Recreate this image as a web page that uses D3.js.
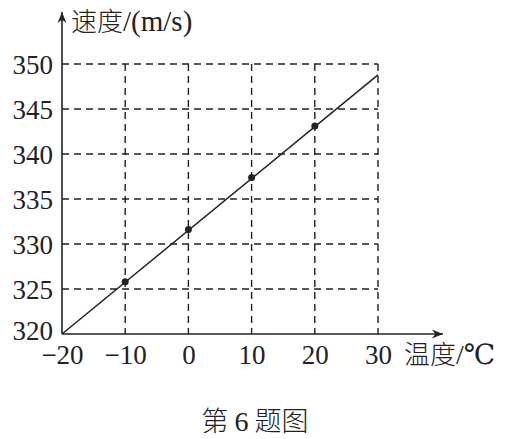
<!DOCTYPE html>
<html><head><meta charset="utf-8">
<script src="https://cdn.jsdelivr.net/npm/d3@7"></script>
<style>body{margin:0;background:#fff}svg{display:block}</style>
</head><body>
<svg id="c" width="505" height="439"></svg>
<script>
const xTicks = [-20, -10, 0, 10, 20, 30];
const yTicks = [320, 325, 330, 335, 340, 345, 350];
const temps = [-10, 0, 10, 20];
const speeds = [325.8, 331.6, 337.4, 343.1];
const lineT = [-20, 30];
const lineV = [320, 348.8];
const xLabel = ["温度", "/℃"];
const yLabel = ["速度", "/(m/s)"];
const caption = ["第 ", "6", " 题图"];

const svg = d3.select("#c");
const x = d3.scaleLinear().domain([-20, 30]).range([62, 378]);
const y = d3.scaleLinear().domain([320, 350]).range([334, 64]);
const ink = "#222";
const numFont = "'Liberation Serif','Times New Roman','DejaVu Serif',serif";
const cjkFont = "'Noto Sans CJK SC',serif";

// grid
const g = svg.append("g").attr("stroke", ink).attr("stroke-width", 1.4).attr("stroke-dasharray", "7,5").attr("fill","none");
yTicks.filter(v => v > 320).forEach(v => {
  g.append("line").attr("x1", x(-20)).attr("x2", x(30)).attr("y1", y(v)).attr("y2", y(v));
});
xTicks.filter(v => v > -20).forEach(v => {
  g.append("line").attr("x1", x(v)).attr("x2", x(v)).attr("y1", y(350)).attr("y2", y(320));
});

// axes lines with arrows
const defs = svg.append("defs");
defs.append("marker").attr("id","arr").attr("viewBox","0 0 10 10").attr("refX",10).attr("refY",5)
  .attr("markerWidth",11).attr("markerHeight",11).attr("markerUnits","userSpaceOnUse").attr("orient","auto")
  .append("path").attr("d","M0,1 L10,5 L0,9 L3,5 Z").attr("fill",ink);
svg.append("line").attr("x1", x(-20)).attr("y1", y(320)).attr("x2", 443).attr("y2", y(320))
  .attr("stroke", ink).attr("stroke-width", 1.6).attr("marker-end","url(#arr)");
svg.append("line").attr("x1", x(-20)).attr("y1", y(320)).attr("x2", x(-20)).attr("y2", 12)
  .attr("stroke", ink).attr("stroke-width", 1.6).attr("marker-end","url(#arr)");

// tick labels via axes
const ax = svg.append("g").attr("transform", `translate(0,${y(320)})`)
  .call(d3.axisBottom(x).tickValues(xTicks).tickSize(0).tickPadding(12));
ax.select(".domain").remove();
ax.selectAll("text").attr("font-family", numFont).attr("font-size", 27).attr("fill", ink).attr("dy", "0.68em");

const ay = svg.append("g").attr("transform", `translate(${x(-20)},0)`)
  .call(d3.axisLeft(y).tickValues(yTicks).tickSize(0).tickPadding(9));
ay.select(".domain").remove();
ay.selectAll("text").attr("font-family", numFont).attr("font-size", 27).attr("fill", ink)
  .attr("dy", d => d === 320 ? "0.2em" : "0.34em");

// line
svg.append("path").datum(lineT.map((t,i)=>[t,lineV[i]]))
  .attr("d", d3.line().x(d=>x(d[0])).y(d=>y(d[1])))
  .attr("stroke", ink).attr("stroke-width", 1.5).attr("fill","none");

// points
svg.selectAll("circle.p").data(temps).join("circle").attr("class","p")
  .attr("cx", d => x(d)).attr("cy", (d,i) => y(speeds[i])).attr("r", 3.5).attr("fill", ink);

// labels
const yl = svg.append("text").attr("x", 71).attr("y", 31).attr("fill", ink);
yl.append("tspan").attr("font-family", cjkFont).attr("font-weight", 300).attr("font-size", 26).text(yLabel[0]);
yl.append("tspan").attr("font-family", numFont).attr("font-size", 29).text(yLabel[1]);
const xl = svg.append("text").attr("x", 404).attr("y", 364).attr("fill", ink);
xl.append("tspan").attr("font-family", cjkFont).attr("font-weight", 300).attr("font-size", 26).text(xLabel[0]);
xl.append("tspan").attr("font-family", numFont).attr("font-size", 28).text(xLabel[1]);
const cap = svg.append("text").attr("x", 255).attr("y", 431).attr("text-anchor","middle").attr("fill", ink);
cap.append("tspan").attr("font-family", cjkFont).attr("font-weight", 300).attr("font-size", 27).text(caption[0]);
cap.append("tspan").attr("font-family", numFont).attr("font-size", 28).text(caption[1]);
cap.append("tspan").attr("font-family", cjkFont).attr("font-weight", 300).attr("font-size", 27).text(caption[2]);
</script>
</body></html>
